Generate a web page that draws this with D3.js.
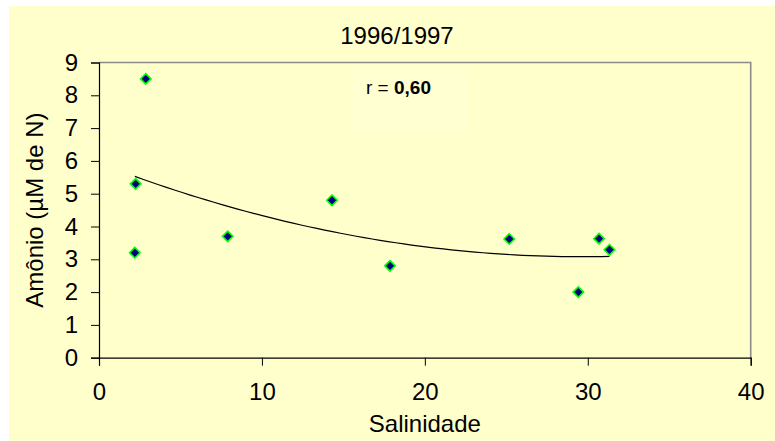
<!DOCTYPE html>
<html>
<head>
<meta charset="utf-8">
<script src="https://cdn.jsdelivr.net/npm/d3@7"></script>
<style>
  html, body { margin: 0; padding: 0; background: #ffffff; }
  svg { display: block; font-family: "Liberation Sans", Arial, sans-serif; }
</style>
</head>
<body>
<svg id="chart" width="775" height="441"></svg>
<script>
// ---- Data ----
const salinidade = [2.2, 2.25, 2.87, 7.9, 14.3, 17.86, 25.18, 29.42, 30.69, 31.33];
const amonio     = [3.2, 5.3, 8.5, 3.7, 4.8, 2.8, 3.62, 2.0, 3.63, 3.29];
const xTicks = [0, 10, 20, 30, 40];
const yTicks = [0, 1, 2, 3, 4, 5, 6, 7, 8, 9];
const titleText = "1996/1997";
const xLabel = "Salinidade";
const yLabel = "Amônio (µM de N)";
const rLabel = "r = ";
const rValue = "0,60";

// ---- Layout ----
const W = 775, H = 441;
const margin = { left: 99, top: 62.5, right: 24.3, bottom: 83.3 };
const pw = W - margin.left - margin.right;
const ph = H - margin.top - margin.bottom;

const svg = d3.select("#chart");
svg.append("rect").attr("x", 9).attr("y", 6).attr("width", W - 9).attr("height", H - 6)
  .attr("fill", "#ffffcc");

const x = d3.scaleLinear().domain([0, 40]).range([0, pw]);
const y = d3.scaleLinear().domain([0, 9]).range([ph, 0]);

const g = svg.append("g").attr("transform", `translate(${margin.left},${margin.top})`);

// r textbox (very faint)
g.append("rect").attr("x", 252).attr("y", 7).attr("width", 116).attr("height", 63)
  .attr("fill", "#ffffd2");

// top/right border (grey)
g.append("path")
  .attr("d", `M0,0H${pw}V${ph}`)
  .attr("fill", "none").attr("stroke", "#8a8a8a").attr("stroke-width", 1.6);

// Axes
const xAxis = g.append("g").attr("transform", `translate(0,${ph})`)
  .call(d3.axisBottom(x).tickValues(xTicks).tickSize(8).tickPadding(12).tickFormat(d3.format("d")));
const yAxis = g.append("g")
  .call(d3.axisLeft(y).tickValues(yTicks).tickSize(8).tickPadding(13).tickFormat(d3.format("d")));
[xAxis, yAxis].forEach(a => {
  a.selectAll("path.domain").attr("stroke", "#000").attr("stroke-width", 1.2);
  a.selectAll(".tick line").attr("stroke", "#000").attr("stroke-width", 1);
  a.selectAll(".tick text").attr("fill", "#000").style("font-size", "24px")
    .style("font-family", "'Liberation Sans', Arial, sans-serif");
});
xAxis.selectAll(".tick text").attr("dy", "0.92em");

// ---- Polynomial (order 2) trendline: least squares fit of the data ----
function polyFit2(xs, ys) {
  let n = xs.length, s = [0,0,0,0,0], t = [0,0,0];
  for (let i = 0; i < n; i++) {
    let p = 1;
    for (let k = 0; k < 5; k++) { s[k] += p; if (k < 3) t[k] += p * ys[i]; p *= xs[i]; }
  }
  const A = [[s[0], s[1], s[2], t[0]], [s[1], s[2], s[3], t[1]], [s[2], s[3], s[4], t[2]]];
  for (let c = 0; c < 3; c++) {
    for (let r = c + 1; r < 3; r++) {
      const f = A[r][c] / A[c][c];
      for (let k = c; k < 4; k++) A[r][k] -= f * A[c][k];
    }
  }
  const b = [0,0,0];
  for (let r = 2; r >= 0; r--) {
    let v = A[r][3];
    for (let k = r + 1; k < 3; k++) v -= A[r][k] * b[k];
    b[r] = v / A[r][r];
  }
  return b;
}
const coef = polyFit2(salinidade, amonio);
const xMin = d3.min(salinidade), xMax = d3.max(salinidade);
const trendX = d3.range(0, 61).map(i => xMin + (xMax - xMin) * i / 60);
const line = d3.line().x(d => x(d)).y(d => y(coef[0] + coef[1] * d + coef[2] * d * d));
g.append("path").datum(trendX).attr("d", line)
  .attr("fill", "none").attr("stroke", "#000").attr("stroke-width", 1.2);

// Markers
const diamond = d3.symbol().type(d3.symbolDiamond2).size(70);
g.selectAll("path.pt").data(salinidade.map((v, i) => [v, amonio[i]])).join("path")
  .attr("class", "pt")
  .attr("d", diamond)
  .attr("transform", d => `translate(${x(d[0])},${y(d[1])})`)
  .attr("fill", "#000080").attr("stroke", "#00ff00").attr("stroke-width", 1.6);

// Title
svg.append("text").attr("x", 397).attr("y", 44).attr("text-anchor", "middle")
  .style("font-size", "24px").attr("fill", "#000").text(titleText);
// X label
svg.append("text").attr("x", margin.left + pw / 2).attr("y", 432).attr("text-anchor", "middle")
  .style("font-size", "24px").attr("fill", "#000").text(xLabel);
// Y label
svg.append("text").attr("transform", `translate(43,${margin.top + ph / 2}) rotate(-90)`)
  .attr("text-anchor", "middle").style("font-size", "24px").attr("fill", "#000").text(yLabel);
// r label
const rt = svg.append("text").attr("x", 366).attr("y", 94).style("font-size", "19px").attr("fill", "#000");
rt.append("tspan").text(rLabel);
rt.append("tspan").attr("font-weight", "bold").text(rValue);
</script>
</body>
</html>
